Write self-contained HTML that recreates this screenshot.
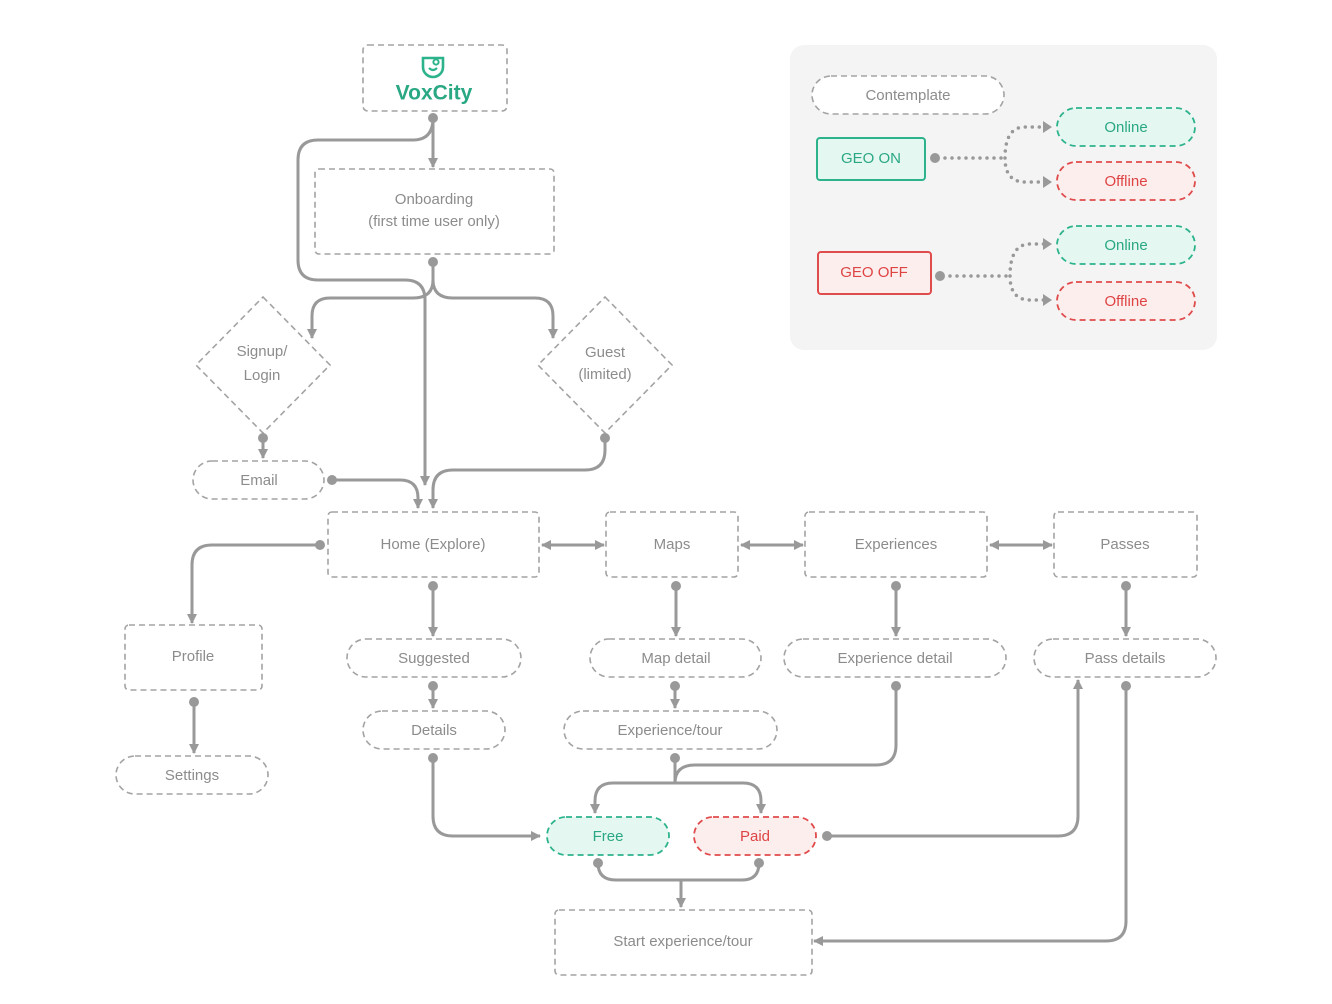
<!DOCTYPE html>
<html><head><meta charset="utf-8"><style>
html,body{margin:0;padding:0;background:#fff;}
svg{display:block;}
text{font-family:"Liberation Sans",sans-serif;font-size:15px;fill:#8c8c8c;text-anchor:middle;dominant-baseline:middle;}
.b{fill:#fff;stroke:#a3a3a3;stroke-width:1.6;stroke-dasharray:6 4;}
.c{fill:none;stroke:#999;stroke-width:3;}
.d{fill:none;stroke:#999;stroke-width:3.5;stroke-dasharray:0 7;stroke-linecap:round;}
.g{fill:#e5f7f1;stroke:#2db38c;stroke-width:1.8;stroke-dasharray:6 4;}
.r{fill:#fdeeee;stroke:#e04b4b;stroke-width:1.8;stroke-dasharray:6 4;}
.gt{fill:#2aa883;} .rt{fill:#de4444;}
</style></head><body>
<svg width="1332" height="1004" viewBox="0 0 1332 1004" xmlns="http://www.w3.org/2000/svg">
<defs>
<marker id="a2" viewBox="0 0 10 10" refX="9" refY="5" markerWidth="10" markerHeight="10" orient="auto-start-reverse" markerUnits="userSpaceOnUse"><path d="M0,0 L10,5 L0,10z" fill="#999"/></marker>
</defs>

<!-- legend -->
<rect x="790" y="45" width="427" height="305" rx="14" fill="#f4f4f4"/>
<rect class="b" x="812" y="76" width="192" height="38" rx="19"/><text x="908" y="96">Contemplate</text>
<rect x="817" y="138" width="108" height="42" rx="3" fill="#e5f7f1" stroke="#2db38c" stroke-width="2"/><text class="gt" x="871" y="159">GEO ON</text>
<rect x="818" y="252" width="113" height="42" rx="3" fill="#fdeeee" stroke="#e04b4b" stroke-width="2"/><text class="rt" x="874" y="273">GEO OFF</text>
<rect class="g" x="1057" y="108" width="138" height="38" rx="19"/><text class="gt" x="1126" y="128">Online</text>
<rect class="r" x="1057" y="162" width="138" height="38" rx="19"/><text class="rt" x="1126" y="182">Offline</text>
<rect class="g" x="1057" y="226" width="138" height="38" rx="19"/><text class="gt" x="1126" y="246">Online</text>
<rect class="r" x="1057" y="282" width="138" height="38" rx="19"/><text class="rt" x="1126" y="302">Offline</text>
<circle cx="935" cy="158" r="5" fill="#999"/><circle cx="940" cy="276" r="5" fill="#999"/>
<path class="d" d="M945,158 H1005 M1005,158 Q1005,127 1025,127 H1044 M1005,158 Q1005,182 1025,182 H1044"/>
<path class="d" d="M950,276 H1010 M1010,276 Q1010,244 1030,244 H1044 M1010,276 Q1010,300 1030,300 H1044"/>
<path d="M1043,121 L1052,127 L1043,133z M1043,176 L1052,182 L1043,188z M1043,238 L1052,244 L1043,250z M1043,294 L1052,300 L1043,306z" fill="#999"/>

<!-- nodes -->
<rect class="b" x="363" y="45" width="144" height="66" rx="5"/>
<path d="M423,58 h20 v9 a10,10 0 0 1 -20,0 z" fill="none" stroke="#2db38c" stroke-width="2.6"/>
<path d="M429,68 q4,4 8,0" fill="none" stroke="#2db38c" stroke-width="2.2"/>
<circle cx="436" cy="62" r="2.6" fill="none" stroke="#2db38c" stroke-width="2"/>
<text x="434" y="94" style="font-size:21px;font-weight:bold;fill:#2aa883">VoxCity</text>
<rect class="b" x="315" y="169" width="239" height="85" rx="4"/><text x="434" y="200">Onboarding</text><text x="434" y="222">(first time user only)</text>
<path class="b" d="M263,297 L330,365 L263,433 L196,365z"/><text x="262" y="352">Signup/</text><text x="262" y="376">Login</text>
<path class="b" d="M605,297 L672,365 L605,433 L538,365z"/><text x="605" y="353">Guest</text><text x="605" y="375">(limited)</text>
<rect class="b" x="193" y="461" width="131" height="38" rx="19"/><text x="259" y="481">Email</text>
<rect class="b" x="328" y="512" width="211" height="65" rx="4"/><text x="433" y="545">Home (Explore)</text>
<rect class="b" x="606" y="512" width="132" height="65" rx="4"/><text x="672" y="545">Maps</text>
<rect class="b" x="805" y="512" width="182" height="65" rx="4"/><text x="896" y="545">Experiences</text>
<rect class="b" x="1054" y="512" width="143" height="65" rx="4"/><text x="1125" y="545">Passes</text>
<rect class="b" x="125" y="625" width="137" height="65" rx="4"/><text x="193" y="657">Profile</text>
<rect class="b" x="116" y="756" width="152" height="38" rx="19"/><text x="192" y="776">Settings</text>
<rect class="b" x="347" y="639" width="174" height="38" rx="19"/><text x="434" y="659">Suggested</text>
<rect class="b" x="363" y="711" width="142" height="38" rx="19"/><text x="434" y="731">Details</text>
<rect class="b" x="590" y="639" width="171" height="38" rx="19"/><text x="676" y="659">Map detail</text>
<rect class="b" x="564" y="711" width="213" height="38" rx="19"/><text x="670" y="731">Experience/tour</text>
<rect class="b" x="784" y="639" width="222" height="38" rx="19"/><text x="895" y="659">Experience detail</text>
<rect class="b" x="1034" y="639" width="182" height="38" rx="19"/><text x="1125" y="659">Pass details</text>
<rect class="g" x="547" y="817" width="122" height="38" rx="19"/><text class="gt" x="608" y="837">Free</text>
<rect class="r" x="694" y="817" width="122" height="38" rx="19"/><text class="rt" x="755" y="837">Paid</text>
<rect class="b" x="555" y="910" width="257" height="65" rx="4"/><text x="683" y="942">Start experience/tour</text>

<!-- connectors -->
<g fill="#999">
<circle cx="433" cy="118" r="5"/><circle cx="433" cy="262" r="5"/><circle cx="263" cy="438" r="5"/><circle cx="332" cy="480" r="5"/><circle cx="605" cy="438" r="5"/>
<circle cx="320" cy="545" r="5"/><circle cx="433" cy="586" r="5"/><circle cx="676" cy="586" r="5"/><circle cx="896" cy="586" r="5"/><circle cx="1126" cy="586" r="5"/>
<circle cx="194" cy="702" r="5"/><circle cx="433" cy="686" r="5"/><circle cx="675" cy="686" r="5"/><circle cx="433" cy="758" r="5"/><circle cx="675" cy="758" r="5"/>
<circle cx="896" cy="686" r="5"/><circle cx="827" cy="836" r="5"/><circle cx="1126" cy="686" r="5"/><circle cx="598" cy="863" r="5"/><circle cx="759" cy="863" r="5"/>
</g>
<g class="c" marker-end="url(#a2)">
<path d="M433,118 V167"/>
<path d="M433,118 Q433,140 413,140 H318 Q298,140 298,160 V260 Q298,280 318,280 H405 Q425,280 425,300 V485"/>
<path d="M433,262 V280 Q433,298 413,298 H330 Q312,298 312,316 V338"/>
<path d="M433,262 V280 Q433,298 453,298 H535 Q553,298 553,316 V338"/>
<path d="M263,438 V458"/>
<path d="M332,480 H400 Q418,480 418,498 V508"/>
<path d="M605,438 V450 Q605,470 585,470 H453 Q433,470 433,490 V508"/>
<path d="M320,545 H212 Q192,545 192,565 V623"/>
<path d="M433,586 V636"/><path d="M676,586 V636"/><path d="M896,586 V636"/><path d="M1126,586 V636"/>
<path d="M194,702 V753"/><path d="M433,686 V708"/><path d="M675,686 V708"/>
<path d="M433,758 V816 Q433,836 453,836 H540"/>
<path d="M675,758 V783 H613 Q595,783 595,801 V813"/>
<path d="M675,783 H743 Q761,783 761,801 V813"/>
<path d="M827,836 H1058 Q1078,836 1078,816 V680"/>
<path d="M1126,686 V921 Q1126,941 1106,941 H814"/>
<path d="M681,880 V907"/>
<path d="M542,545 H604" marker-start="url(#a2)"/>
<path d="M741,545 H803" marker-start="url(#a2)"/>
<path d="M990,545 H1052" marker-start="url(#a2)"/>
</g>
<path class="c" d="M896,686 V745 Q896,765 876,765 H695 Q675,765 675,783"/>
<path class="c" d="M598,863 Q598,880 616,880 H742 Q759,880 759,863"/>
</svg>
</body></html>
